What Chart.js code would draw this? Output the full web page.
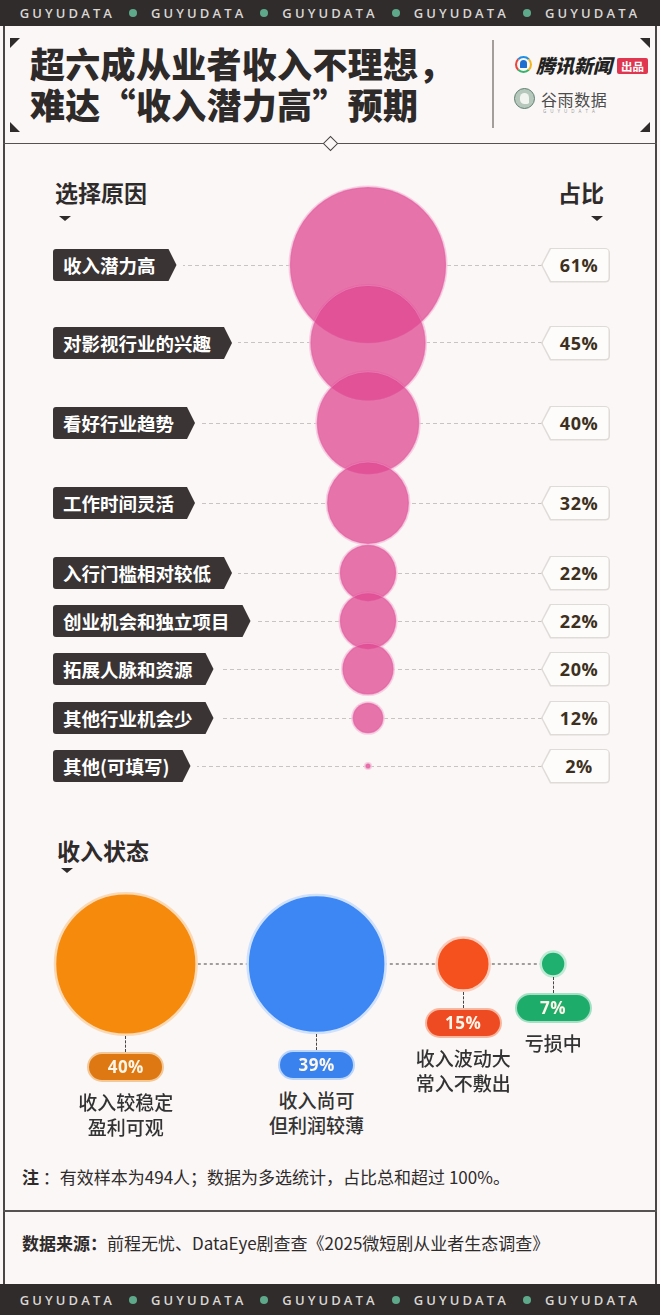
<!DOCTYPE html>
<html lang="zh-CN">
<head>
<meta charset="utf-8">
<title>超六成从业者收入不理想</title>
<script src="https://cdn.jsdelivr.net/npm/chart.js@4.4.1/dist/chart.umd.min.js"></script>
<style>
    body { margin: 0; background: #faf7f6; }
    #page { position: relative; width: 660px; height: 1315px; overflow: hidden; background: #faf7f6;
            font-family: "Noto Sans CJK SC", "Noto Sans", sans-serif; color: #2f2b2b; }
    .band { position: absolute; left: 0; width: 660px; background: #302c2c; display: flex;
            justify-content: center; align-items: center; gap: 14px; }
    .band .w { font-family: "Open Sans", sans-serif; font-weight: 600; font-size: 13px;
               letter-spacing: 3.1px; color: #d9d6d3; }
    .band .d { width: 8px; height: 8px; border-radius: 50%; background: #5ea98b; }
    .vline { position: absolute; width: 2px; background: #4a4646; }
    .hline { position: absolute; left: 3px; width: 654px; height: 1.5px; background: #575252; }
    .corner { position: absolute; width: 0; height: 0; }
    .title { position: absolute; left: 30px; top: 42px; font-size: 35px; font-weight: 900;
             line-height: 41px; color: #2e2a2a; letter-spacing: 0.3px; white-space: nowrap; }
    .head { position: absolute; font-size: 23px; font-weight: 700; line-height: 30px; color: #2f2b2b; }
    .mark { position: absolute; width: 0; height: 0; border-left: 6px solid transparent;
            border-right: 6px solid transparent; border-top: 5px solid #2f2b2b; }
    canvas { position: absolute; z-index: 1; }
    .tagwrap { position: absolute; left: 53px; height: 32px; padding-right: 6px; background: #faf7f6; z-index: 2; }
    .tag { height: 32px; line-height: 32px; padding: 0 21px 0 10px; background: #3a3434; color: #fff;
           font-weight: 700; font-size: 18.5px; white-space: nowrap; border-radius: 3px 0 0 3px;
           clip-path: polygon(0 0, calc(100% - 8px) 0, 100% 50%, calc(100% - 8px) 100%, 0 100%); }
    .val { position: absolute; left: 541px; width: 69px; height: 35px; z-index: 2; background: #dfdbd8;
           border-radius: 0 5px 5px 0; clip-path: polygon(9px 0, 100% 0, 100% 100%, 9px 100%, 0 50%); }
    .val-in { position: absolute; left: 1.5px; top: 1.5px; right: 1.5px; bottom: 1.5px; background: #fdfcfb;
              border-radius: 0 4px 4px 0; clip-path: polygon(8.5px 0, 100% 0, 100% 100%, 8.5px 100%, 0 50%);
              font-family: "Open Sans", sans-serif; font-weight: 700; font-size: 18px; color: #3d3020;
              text-align: center; line-height: 32px; padding-left: 7px; box-sizing: border-box; letter-spacing: 0.5px; }
    .conn { position: absolute; width: 0; border-left: 1.2px dashed #4a4545; z-index: 1; }
    .pill { position: absolute; width: 77px; height: 30px; box-sizing: border-box; border-radius: 15px;
            border: 2px solid; text-align: center; line-height: 26px; font-family: "Open Sans", sans-serif;
            font-weight: 700; font-size: 17px; color: #fff6ea; z-index: 2; letter-spacing: 0.5px; }
    .plabel { position: absolute; width: 140px; text-align: center; font-size: 19px; font-weight: 500;
              line-height: 25px; color: #333; z-index: 2; }
    .foot { position: absolute; left: 22px; font-size: 17px; line-height: 26px; color: #2f2b2b; white-space: nowrap; }
</style>
</head>
<body>
<div id="page">
    <div class="band" style="top:0;height:26px">
        <span class="w">GUYUDATA</span><span class="d"></span><span class="w">GUYUDATA</span><span class="d"></span>
        <span class="w">GUYUDATA</span><span class="d"></span><span class="w">GUYUDATA</span><span class="d"></span>
        <span class="w">GUYUDATA</span>
    </div>
    <div class="band" style="top:1284px;height:31px">
        <span class="w">GUYUDATA</span><span class="d"></span><span class="w">GUYUDATA</span><span class="d"></span>
        <span class="w">GUYUDATA</span><span class="d"></span><span class="w">GUYUDATA</span><span class="d"></span>
        <span class="w">GUYUDATA</span>
    </div>
    <div class="vline" style="left:3px;top:26px;height:1258px"></div>
    <div class="vline" style="left:655px;top:26px;height:1258px"></div>

    <!-- header -->
    <div class="corner" style="left:10px;top:38px;border-top:10px solid #2f2b2b;border-right:10px solid transparent"></div>
    <div class="corner" style="left:10px;top:122px;border-bottom:10px solid #2f2b2b;border-right:10px solid transparent"></div>
    <div class="corner" style="left:640px;top:38px;border-top:10px solid #2f2b2b;border-left:10px solid transparent"></div>
    <div class="corner" style="left:640px;top:122px;border-bottom:10px solid #2f2b2b;border-left:10px solid transparent"></div>
    <div class="title">超六成从业者收入不理想，<br>难达“收入潜力高”预期</div>
    <div style="position:absolute;left:492px;top:40px;width:1.5px;height:88px;background:#a39e9b"></div>

    <div style="position:absolute;left:515px;top:56px;width:13px;height:13px;border-radius:50%;border:2.5px solid;
                border-color:#1f8fe6 #f3b51b #34b36a #e8453c"></div>
    <div style="position:absolute;left:519.5px;top:60px;width:7px;height:8px;border-radius:4px 4px 1px 1px;background:#1f6fd0"></div>
    <div style="position:absolute;left:536px;top:52px;font-size:19px;font-weight:900;font-style:italic;line-height:26px;color:#222">腾讯新闻</div>
    <div style="position:absolute;left:617px;top:58px;width:31px;height:16px;background:#e0364f;border-radius:2px;
                color:#fff;font-size:11.5px;font-weight:700;line-height:16px;text-align:center">出品</div>

    <div style="position:absolute;left:514px;top:88px;width:19px;height:19px;border-radius:50%;background:#b6c8bc;border:1.5px solid #5f8070"></div>
    <div style="position:absolute;left:520px;top:93px;width:9px;height:11px;border-radius:5px 5px 2px 5px;background:#f2f4f0"></div>
    <div style="position:absolute;left:541px;top:88px;font-size:16px;line-height:22px;color:#4b4b4b;letter-spacing:0.6px">谷雨数据</div>
    <div style="position:absolute;left:543px;top:108px;font-family:'Open Sans';font-size:4.5px;letter-spacing:4px;color:#999">GUYUDATA</div>

    <div class="hline" style="top:142.5px"></div>
    <div style="position:absolute;left:325px;top:137.5px;width:9px;height:9px;background:#faf7f6;border:1.3px solid #4a4545;transform:rotate(45deg)"></div>

    <!-- reasons -->
    <div class="head" style="left:55px;top:177px">选择原因</div>
    <div class="mark" style="left:59px;top:216px"></div>
    <div class="head" style="right:56px;top:177px">占比</div>
    <div class="mark" style="left:591px;top:216px"></div>
    <canvas id="reasonChart" width="374" height="650" style="left:181px;top:150px"></canvas>

    <!-- income status -->
    <div class="head" style="left:57px;top:835px">收入状态</div>
    <div class="mark" style="left:61px;top:868px"></div>
    <canvas id="statusChart" width="660" height="200" style="left:0;top:870px"></canvas>

    <div class="foot" style="top:1164px"><b>注</b>&nbsp;：有效样本为494人；数据为多选统计，占比总和超过 100%。</div>
    <div class="hline" style="top:1210px"></div>
    <div class="foot" style="top:1230px"><b>数据来源：</b>前程无忧、DataEye剧查查《2025微短剧从业者生态调查》</div>
</div>

<script>
// data
var reasons = ['收入潜力高', '对影视行业的兴趣', '看好行业趋势', '工作时间灵活', '入行门槛相对较低',
               '创业机会和独立项目', '拓展人脉和资源', '其他行业机会少', '其他(可填写)'];
var reasonShare = [61, 45, 40, 32, 22, 22, 20, 12, 2];

var statusNames = [['收入较稳定', '盈利可观'], ['收入尚可', '但利润较薄'], ['收入波动大', '常入不敷出'], ['亏损中']];
var statusShare = [40, 39, 15, 7];

// look
var statusFill = ['#f68a0d', '#3c87f4', '#f5511f', '#1faf6e'];
var statusRing = ['#fbd9b4', '#cfe1fc', '#fccbb9', '#bfeBd5'];
var pillFill = ['#dd7812', '#3a83ef', '#ef4b22', '#1eac6b'];
var pillRing = ['#f4c896', '#bcd5fa', '#f9b7a0', '#a6e0c4'];

// layout
var REASON_TOP = 150;
var ROW_FIRST = 115;
var ROW_GAPS = [78, 80, 80, 70, 48, 48, 49, 48];
var REASON_PX = 1.28;      // bubble radius per percentage point

var STATUS_TOP = 870;
var STATUS_MID = 94;
var STATUS_LEFT = 55;
var STATUS_GAP = 51;
var STATUS_PX = 1.77;

var BG = '#faf7f6';
var page = document.getElementById('page');

var rowY = [ROW_FIRST];
ROW_GAPS.forEach(function(g, i) {
    rowY.push(rowY[i] + g);
});

var reasonPoints = reasonShare.map(function(v, i) {
    return {x: 0.5, y: rowY[i], r: v * REASON_PX};
});

var reasonChart = new Chart(document.getElementById('reasonChart'), {
    type: 'bubble',
    data: {
        labels: reasons,
        datasets: [{
            data: reasonPoints,
            backgroundColor: 'rgba(222, 70, 145, 0.74)',
            borderColor: 'rgba(240, 170, 205, 0.35)',
            borderWidth: 1,
            clip: false,
            order: 1
        }, {
            // opaque backing so the dashed rows don't show through the bubbles
            data: reasonPoints,
            backgroundColor: BG,
            borderColor: 'rgba(244, 200, 222, 0.8)',
            borderWidth: 3,
            clip: false,
            order: 2
        }]
    },
    options: {
        responsive: false,
        animation: false,
        events: [],
        layout: {padding: 0, autoPadding: false},
        plugins: {legend: {display: false}, tooltip: {enabled: false}},
        scales: {
            x: {type: 'linear', min: 0, max: 1, display: false},
            y: {
                type: 'linear', min: 0, max: 650, reverse: true,
                afterBuildTicks: function(scale) {
                    scale.ticks = rowY.map(function(v) { return {value: v}; });
                },
                ticks: {display: false},
                grid: {color: '#c9c4c1', lineWidth: 1, drawTicks: false},
                border: {display: false, dash: [4, 3]}
            }
        }
    }
});

var yScale = reasonChart.scales.y;
reasons.forEach(function(name, i) {
    var cy = REASON_TOP + yScale.getPixelForValue(rowY[i]);

    var wrap = document.createElement('div');
    wrap.className = 'tagwrap';
    wrap.style.top = (cy - 16) + 'px';
    wrap.innerHTML = '<div class="tag">' + name + '</div>';
    page.appendChild(wrap);

    var box = document.createElement('div');
    box.className = 'val';
    box.style.top = (cy - 17.5) + 'px';
    box.innerHTML = '<div class="val-in">' + reasonShare[i] + '%</div>';
    page.appendChild(box);
});

// income status: bubbles packed left to right with an even gap
var statusR = statusShare.map(function(v) { return v * STATUS_PX; });
var statusX = [];
statusR.forEach(function(r, i) {
    statusX.push(i === 0 ? STATUS_LEFT + r : statusX[i - 1] + statusR[i - 1] + STATUS_GAP + r);
});
var statusPoints = statusShare.map(function(v, i) {
    return {x: statusX[i], y: STATUS_MID, r: statusR[i]};
});

var statusChart = new Chart(document.getElementById('statusChart'), {
    type: 'bubble',
    data: {
        datasets: [{
            data: statusPoints,
            backgroundColor: statusFill,
            borderColor: statusRing,
            borderWidth: 2.5,
            clip: false,
            order: 1
        }, {
            type: 'line',
            data: statusPoints,
            borderColor: '#4a4545',
            borderWidth: 1.2,
            borderDash: [3, 3],
            pointRadius: 0,
            fill: false,
            clip: false,
            order: 2
        }]
    },
    options: {
        responsive: false,
        animation: false,
        events: [],
        layout: {padding: 0, autoPadding: false},
        plugins: {legend: {display: false}, tooltip: {enabled: false}},
        scales: {
            x: {type: 'linear', min: 0, max: 660, display: false},
            y: {type: 'linear', min: 0, max: 200, reverse: true, display: false}
        }
    }
});

statusChart.getDatasetMeta(0).data.forEach(function(pt, i) {
    var cx = pt.x;
    var bottom = STATUS_TOP + pt.y + statusR[i] + 1;
    var pillTop = bottom + 16;

    var conn = document.createElement('div');
    conn.className = 'conn';
    conn.style.left = (cx - 0.6) + 'px';
    conn.style.top = bottom + 'px';
    conn.style.height = (pillTop - bottom) + 'px';
    page.appendChild(conn);

    var pill = document.createElement('div');
    pill.className = 'pill';
    pill.style.left = (cx - 38.5) + 'px';
    pill.style.top = pillTop + 'px';
    pill.style.background = pillFill[i];
    pill.style.borderColor = pillRing[i];
    pill.textContent = statusShare[i] + '%';
    page.appendChild(pill);

    var label = document.createElement('div');
    label.className = 'plabel';
    label.style.left = (cx - 70) + 'px';
    label.style.top = (pillTop + 37) + 'px';
    label.innerHTML = statusNames[i].join('<br>');
    page.appendChild(label);
});
</script>
</body>
</html>
